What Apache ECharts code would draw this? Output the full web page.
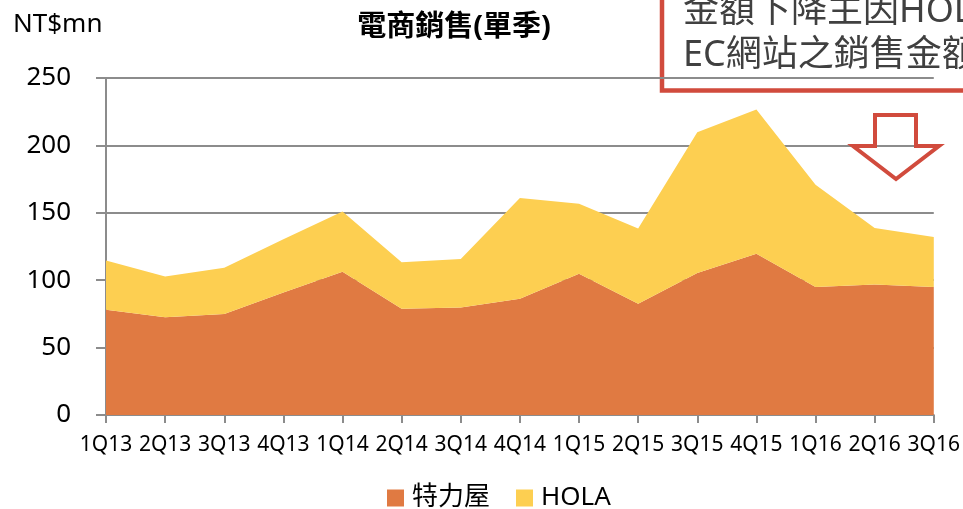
<!DOCTYPE html>
<html>
<head>
<meta charset="utf-8">
<title>電商銷售(單季)</title>
<script src="https://cdn.jsdelivr.net/npm/echarts@6/dist/echarts.min.js"></script>
<style>
  html, body { margin: 0; padding: 0; background: #fff; }
  #chart { width: 963px; height: 509px; }
</style>
</head>
<body>
<div id="chart"></div>
<script>
// 季度
const quarters = ['1Q13', '2Q13', '3Q13', '4Q13', '1Q14', '2Q14', '3Q14', '4Q14',
  '1Q15', '2Q15', '3Q15', '4Q15', '1Q16', '2Q16', '3Q16']
// 特力屋 (NT$mn)
const hyperValues = [78, 72.6, 75, 90.9, 106.2, 78.8, 79.7, 86.2, 104.8, 82.5, 105.3, 119.6, 94.9, 96.8, 94.9]
// HOLA (NT$mn), 疊在特力屋之上
const holaValues = [36.6, 30.1, 34.2, 39.5, 44.8, 34.6, 36, 74.8, 52, 55.9, 104.4, 107, 76, 41.9, 37.1]
// y 軸刻度
const yTicks = [0, 50, 100, 150, 200, 250]

const FONT = "'Noto Sans', 'Noto Sans CJK TC', sans-serif"
const RED = '#D14B3D'

const myChart = echarts.init(document.getElementById('chart'))

myChart.setOption({
  animation: false,
  title: {
    text: '電商銷售(單季)',
    left: 449,
    top: 8,
    textAlign: 'center',
    textStyle: {
      fontFamily: FONT,
      fontSize: 29,
      fontWeight: 'bold',
      color: '#000'
    }
  },
  legend: {
    top: 480,
    left: 382,
    itemWidth: 17,
    itemHeight: 17,
    itemGap: 26,
    icon: 'rect',
    textStyle: {
      fontFamily: FONT,
      fontSize: 26,
      color: '#000',
      padding: [0, 0, 0, 3]
    },
    data: ['特力屋', 'HOLA']
  },
  grid: {
    left: 106,
    right: 28,
    top: 78,
    bottom: 94
  },
  xAxis: {
    type: 'category',
    boundaryGap: false,
    data: quarters,
    axisLine: {
      lineStyle: { color: '#8c8c8c', width: 2 }
    },
    axisTick: {
      show: true,
      length: 8,
      alignWithLabel: true,
      lineStyle: { color: '#8c8c8c', width: 2 }
    },
    axisLabel: {
      interval: 0,
      margin: 20,
      fontFamily: FONT,
      fontSize: 21,
      color: '#000'
    }
  },
  yAxis: {
    type: 'value',
    name: 'NT$mn',
    nameLocation: 'end',
    nameGap: 40,
    nameTextStyle: {
      fontFamily: FONT,
      fontSize: 26,
      color: '#000',
      align: 'left',
      padding: [0, 0, 0, -93]
    },
    min: yTicks[0],
    max: yTicks[yTicks.length - 1],
    interval: 50,
    axisLine: {
      show: true,
      lineStyle: { color: '#8c8c8c', width: 2 }
    },
    axisTick: {
      show: true,
      length: 10,
      lineStyle: { color: '#8c8c8c', width: 2 }
    },
    splitLine: {
      lineStyle: { color: '#8c8c8c', width: 2 }
    },
    axisLabel: {
      margin: 35,
      fontFamily: FONT,
      fontSize: 26,
      color: '#000'
    }
  },
  series: [
    {
      name: '特力屋',
      type: 'line',
      stack: 'total',
      data: hyperValues,
      symbol: 'none',
      lineStyle: { width: 0 },
      areaStyle: { color: '#E07A42', opacity: 1 },
      itemStyle: { color: '#E07A42' }
    },
    {
      name: 'HOLA',
      type: 'line',
      stack: 'total',
      data: holaValues,
      symbol: 'none',
      lineStyle: { width: 0 },
      areaStyle: { color: '#FDCF51', opacity: 1 },
      itemStyle: { color: '#FDCF51' }
    }
  ],
  graphic: [
    // 說明框
    {
      type: 'group',
      z: 100,
      children: [
        {
          type: 'rect',
          shape: { x: 662, y: -30, width: 400, height: 120.5 },
          style: { fill: '#fff', stroke: RED, lineWidth: 4.5 }
        },
        {
          type: 'text',
          x: 683,
          y: 12,
          style: {
            text: '金額下降主因HOLA',
            font: "36px 'Noto Sans', 'Noto Sans CJK TC', sans-serif",
            fill: '#404040',
            verticalAlign: 'middle'
          }
        },
        {
          type: 'text',
          x: 683,
          y: 56,
          style: {
            text: 'EC網站之銷售金額',
            font: "36px 'Noto Sans', 'Noto Sans CJK TC', sans-serif",
            fill: '#404040',
            verticalAlign: 'middle'
          }
        }
      ]
    },
    // 向下箭頭
    {
      type: 'polygon',
      z: 100,
      shape: {
        points: [[875, 115], [916, 115], [916, 146], [939, 146], [896, 179], [853, 146], [875, 146]]
      },
      style: { fill: 'rgba(0,0,0,0)', stroke: RED, lineWidth: 4 }
    }
  ]
})
</script>
</body>
</html>
